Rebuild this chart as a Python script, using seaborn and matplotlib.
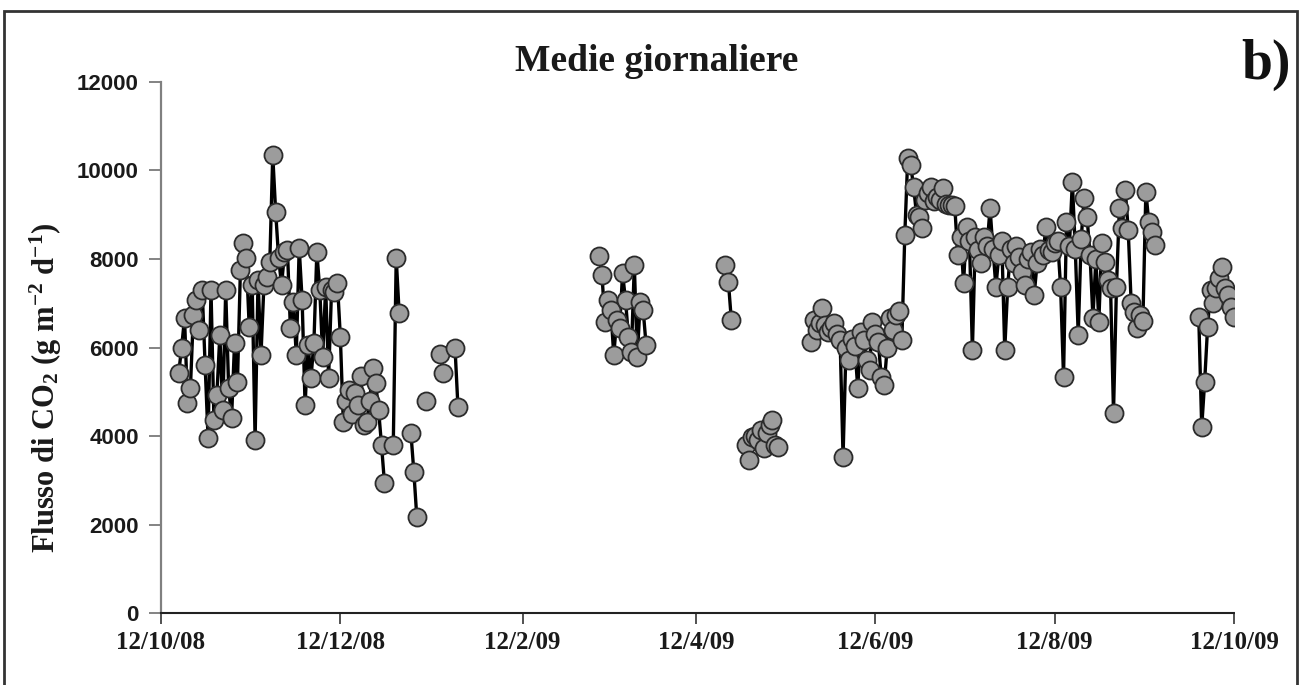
import numpy as np
import pandas as pd
import matplotlib
matplotlib.use('Agg')
import matplotlib.pyplot as plt
from matplotlib.patches import Rectangle
import seaborn as sns

nan = np.nan

# medie giornaliere del flusso di CO2 (g m-2 d-1), un valore per giorno
seg1_start = '2008-10-18'
seg1_flux = [5420, 6000, 6670, 4750, 5090, 6740, 7070, 6400, 7300, 5600,
             3950, 7300, 4360, 4930, 6280, 4590, 7300, 5090, 4410, 6100,
             5220, 7750, 8360, 8020, 6460, 7410, 3910, 7530, 5830, 7410,
             7600, 7930, 10350, 9060, 8020, 7410, 8150, 8200, 6440, 7030,
             5830, 8250, 7070, 4700, 6060, 5310, 6100, 8160, 7300, 5790,
             7370, 5310, 7300, 7250, 7460, 6240, 4320, 4800, 5040, 4500,
             4970, 4700, 5360, 4250, 4320, 4800, 5540, 5200, 4590, 3800,
             2940, nan, nan, 3800, 8020, 6780, nan, nan, nan, 4070,
             3190, 2170, nan, nan, 4790, nan, nan, nan, nan, 5850,
             5420, nan, nan, nan, 6000, 4660]

seg2_start = '2009-03-10'
seg2_flux = [8070, 7640, 6580, 7070, 6850, 5830, 6620, 6450, 7680, 7070,
             6240, 5900, 7860, 5790, 7030, 6850, 6060]

seg3_start = '2009-04-22'
seg3_flux = [7860, 7480, 6620]

seg4_start = '2009-04-29'
seg4_flux = [3800, 3460, 3980, 4000, 3900, 4140, 3730, 4070, 4250, 4360,
             3800, 3750]

seg5_start = '2009-05-21'
seg5_flux = [6120, 6620, 6400, 6550, 6890, 6500, 6350, 6450, 6550, 6300,
             6170, 3530, 5990, 5720, 6200, 6030, 5080, 6350, 6170, 5720,
             5500, 6580, 6300, 6120, 5330, 5150, 6000, 6670, 6400, 6740,
             6830, 6170, 8540, 10280, 10120, 9630, 9000, 8950, 8700, 9330,
             9500, 9630, 9300, 9400, 9330, 9600, 9250, 9220, 9220, 9200,
             8090, 8500, 7460, 8720, 8400, 5940, 8500, 8200, 7900, 8500,
             8300, 9150, 8220, 7370, 8100, 8400, 5940, 7370, 8220, 7900,
             8300, 8040, 7700, 7410, 8000, 8150, 7180, 7900, 8220, 8100,
             8720, 8200, 8150, 8360, 8400, 7370, 5330, 8840, 8300, 9740,
             8220, 6280, 8450, 9380, 8950, 8100, 6670, 8000, 6580, 8360,
             7930, 7520, 7350, 4520, 7370, 9150, 8700, 9560, 8660, 7010,
             6800, 6440, 6740, 6600, 9520, 8840, 8600, 8320]

seg6_start = '2009-09-30'
seg6_flux = [6690, 4200, 5220, 6460, 7300, 7010, 7350, 7570, 7820, 7350,
             7190, 6920, 6690]

tick_dates = ['2008-10-12', '2008-12-12', '2009-02-12', '2009-04-12',
              '2009-06-12', '2009-08-12', '2009-10-12']
tick_labels = ['12/10/08', '12/12/08', '12/2/09', '12/4/09',
               '12/6/09', '12/8/09', '12/10/09']
y_ticks = [0, 2000, 4000, 6000, 8000, 10000, 12000]

# ------------------------------------------------------------
#  dati in formato lungo, un "tratto" per ogni serie di giorni continui
# ------------------------------------------------------------
segments = [(seg1_start, seg1_flux), (seg2_start, seg2_flux),
            (seg3_start, seg3_flux), (seg4_start, seg4_flux),
            (seg5_start, seg5_flux), (seg6_start, seg6_flux)]
frames = []
for start, vals in segments:
    frames.append(pd.DataFrame({
        'data': pd.date_range(start, periods=len(vals), freq='D'),
        'flusso': vals}))
df = pd.concat(frames, ignore_index=True).dropna().reset_index(drop=True)
new_run = df['data'].diff() != pd.Timedelta(days=1)
df['tratto'] = new_run.cumsum()

sns.set_style('white')
plt.rcParams['font.family'] = ['Liberation Serif', 'DejaVu Serif']
plt.rcParams['mathtext.fontset'] = 'custom'
plt.rcParams['mathtext.rm'] = 'Liberation Serif:bold'
plt.rcParams['mathtext.default'] = 'rm'

fig = plt.figure(figsize=(13.06, 6.85), dpi=100)
ax = fig.add_axes([0.1233, 0.1051, 0.8216, 0.7752])

sns.lineplot(data=df, x='data', y='flusso', units='tratto', estimator=None,
             sort=False, color='black', linewidth=2.4, marker='o',
             markersize=13, markerfacecolor='#9c9c9c',
             markeredgecolor='#2b2b2b', markeredgewidth=1.3,
             legend=False, ax=ax)

ax.set_xlim(pd.Timestamp(tick_dates[0]), pd.Timestamp(tick_dates[-1]))
ax.set_ylim(0, 12000)
ax.set_xticks(pd.to_datetime(tick_dates))
ax.set_xticklabels(tick_labels, fontsize=18, fontweight='bold',
                   family='Liberation Serif', color='#1a1a1a')
ax.set_yticks(y_ticks)
ax.set_yticklabels([str(v) for v in y_ticks], fontsize=16, fontweight='bold',
                   family='Liberation Sans', color='#1a1a1a')
ax.tick_params(axis='y', direction='out', length=9, width=1.3,
               color='#7a7a7a', pad=7, left=True)
ax.tick_params(axis='x', direction='out', length=8, width=1.2,
               color='#333333', pad=5, bottom=True)

for side in ['top', 'right']:
    ax.spines[side].set_visible(False)
ax.spines['left'].set_color('#808080')
ax.spines['left'].set_linewidth(1.6)
ax.spines['bottom'].set_color('#222222')
ax.spines['bottom'].set_linewidth(1.5)
ax.spines['bottom'].set_linestyle((0, (3, 1)))

ax.set_xlabel('')
ax.set_ylabel(r'Flusso di CO$_2$ (g m$^{-2}$ d$^{-1}$)', fontsize=22,
              fontweight='bold', color='#1a1a1a')
ax.yaxis.set_label_coords(-0.09, 0.424)

fig.text(0.503, 0.91, 'Medie giornaliere', ha='center', va='center',
         fontsize=27, fontweight='bold', color='#1a1a1a')
fig.text(0.969, 0.905, 'b)', ha='center', va='center',
         fontsize=40, fontweight='bold', color='#111111')

# cornice esterna
fig.patches.append(Rectangle((0.003, -0.02), 0.990, 1.004,
                             transform=fig.transFigure, fill=False,
                             edgecolor='#333333', linewidth=2))

plt.savefig('out.png', dpi=100)
plt.close()
